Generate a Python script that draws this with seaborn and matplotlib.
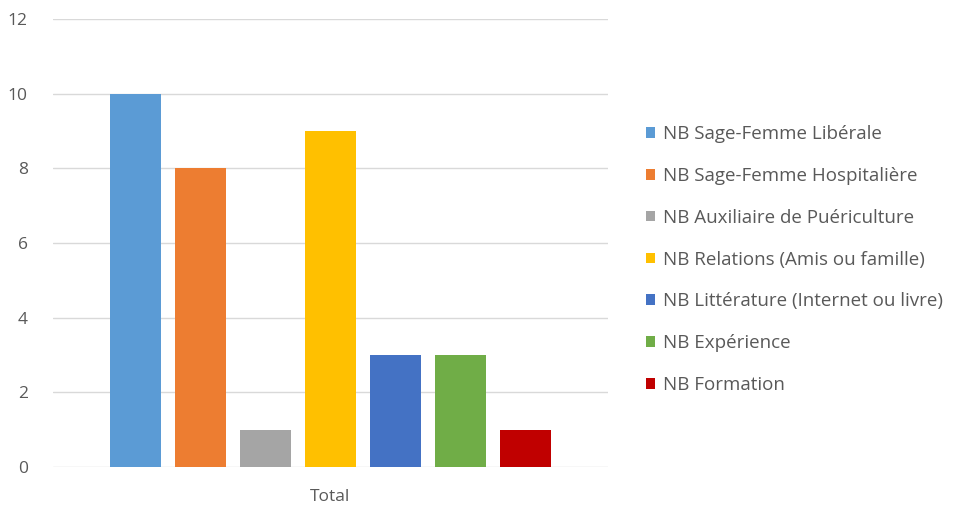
import pandas as pd
import matplotlib.pyplot as plt
import seaborn as sns

categories = ["Total"]
series = [
    "NB Sage-Femme Libérale",
    "NB Sage-Femme Hospitalière",
    "NB Auxiliaire de Puériculture",
    "NB Relations (Amis ou famille)",
    "NB Littérature (Internet ou livre)",
    "NB Expérience",
    "NB Formation",
]
values = [10, 8, 1, 9, 3, 3, 1]
colors = ["#5B9BD5", "#ED7D31", "#A5A5A5", "#FFC000", "#4472C4", "#70AD47", "#C00000"]
y_ticks = [0, 2, 4, 6, 8, 10, 12]


def main():
    df = pd.DataFrame({
        "category": categories * len(series),
        "series": series,
        "value": values,
    })

    sns.set_theme(style="white")
    plt.rcParams["font.family"] = ["Open Sans", "DejaVu Sans"]

    fig = plt.figure(figsize=(9.6, 5.07), dpi=100)
    ax = fig.add_axes([0.055, 0.079, 0.578, 0.8835])

    sns.barplot(
        data=df,
        x="category",
        y="value",
        hue="series",
        hue_order=series,
        palette=colors,
        width=0.82,
        gap=0.21,
        saturation=1,
        linewidth=0,
        ax=ax,
        legend=True,
    )

    ax.set_ylim(0, 12)
    ax.set_xlim(-0.5, 0.5)
    ax.set_yticks(y_ticks)
    ax.yaxis.grid(True, color="#D9D9D9", linewidth=1)
    ax.set_axisbelow(True)
    sns.despine(ax=ax, left=True, bottom=True, top=True, right=True)
    ax.tick_params(axis="both", length=0, labelsize=12.5, colors="#595959")
    ax.tick_params(axis="y", pad=18)
    ax.tick_params(axis="x", pad=16)
    ax.set_xlabel("")
    ax.set_ylabel("")

    handles, labels = ax.get_legend_handles_labels()
    ax.get_legend().remove()
    fig.legend(
        handles, labels,
        loc="center left",
        bbox_to_anchor=(0.655, 0.488),
        frameon=False,
        fontsize=13.5,
        labelcolor="#595959",
        handlelength=0.5,
        handleheight=0.5,
        handletextpad=0.4,
        labelspacing=1.27,
    )

    fig.savefig("out.png", dpi=100)


if __name__ == "__main__":
    main()
